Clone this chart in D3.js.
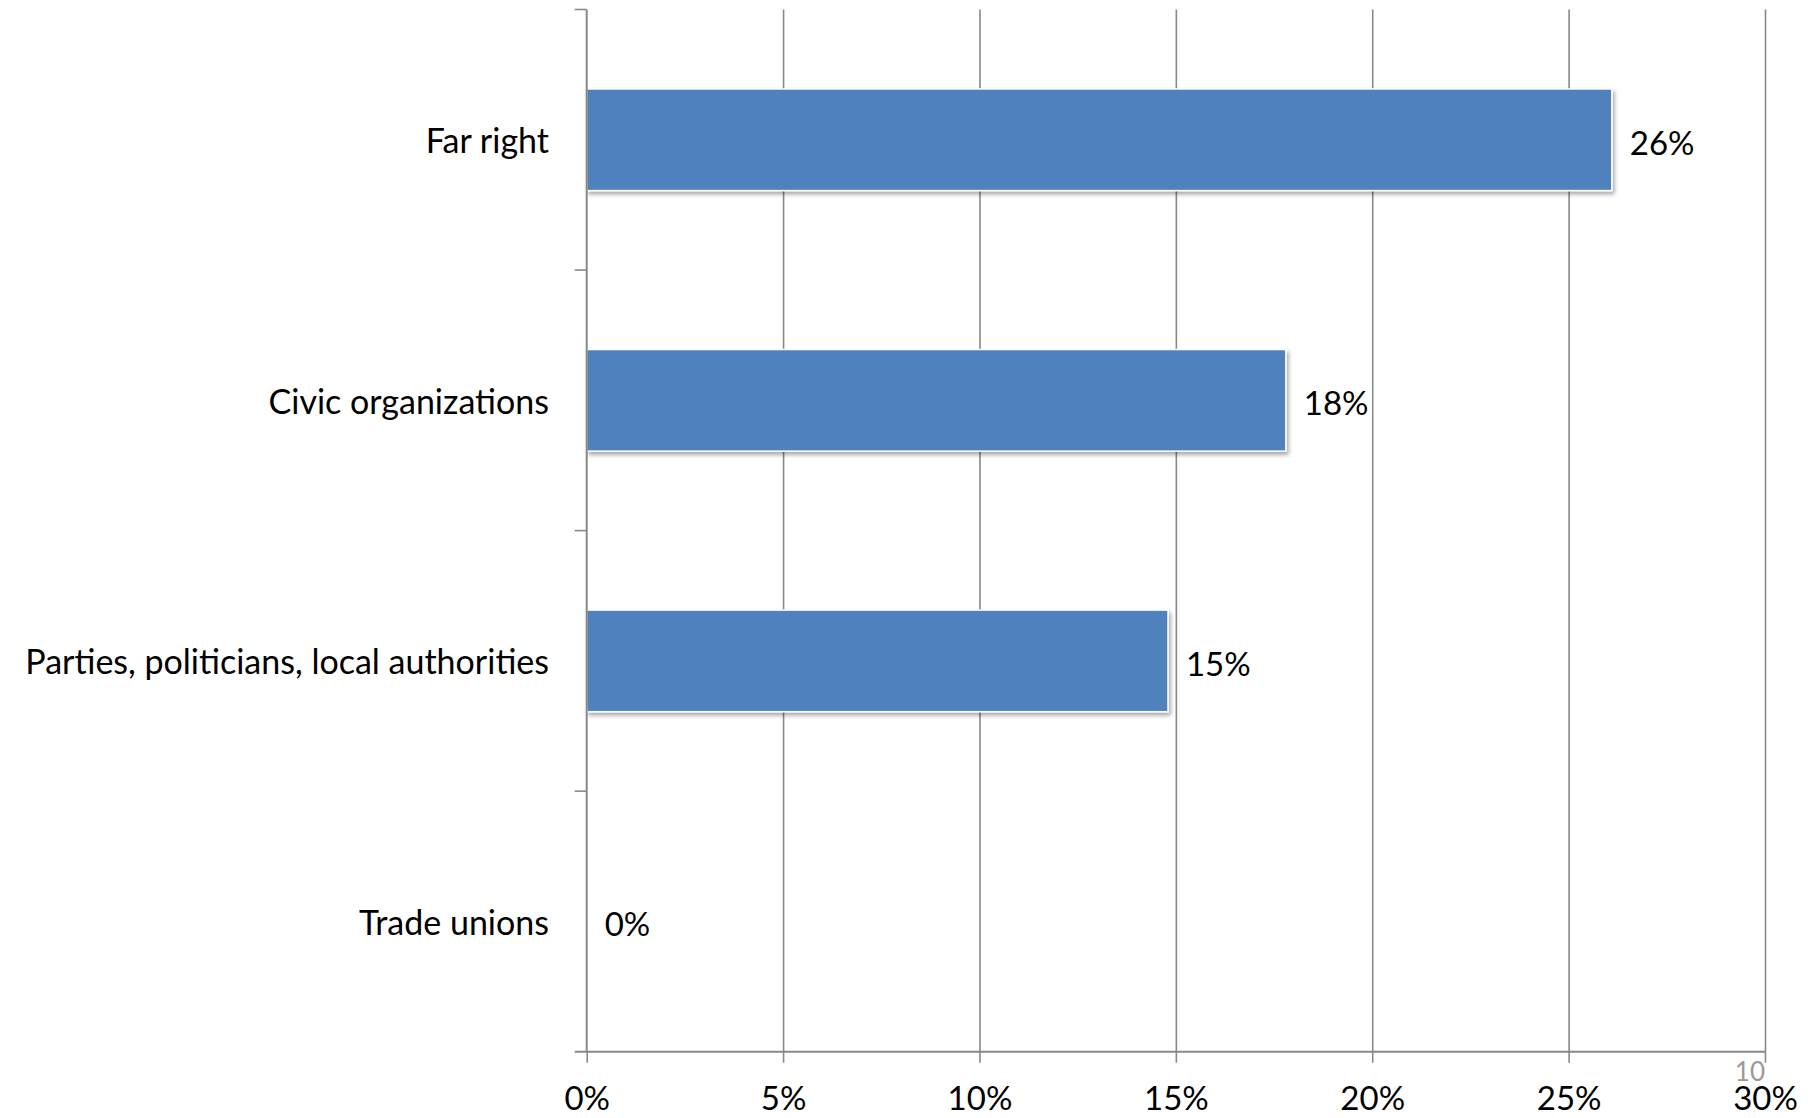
<!DOCTYPE html>
<html>
<head>
<meta charset="utf-8">
<script src="https://cdn.jsdelivr.net/npm/d3@7"></script>
<style>
  html, body { margin: 0; padding: 0; background: #ffffff; }
  svg { display: block; }
  text { font-family: Lato, "Open Sans", sans-serif; }
</style>
</head>
<body>
<svg id="chart" width="1818" height="1118"></svg>
<script>
const categories = ["Far right", "Civic organizations", "Parties, politicians, local authorities", "Trade unions"];
const values = [26.1, 17.8, 14.8, 0];
const xTicks = [0, 5, 10, 15, 20, 25, 30];
const pageNumber = "10";

const margin = { left: 586.7, right: 1765, top: 9.5, bottom: 1051.7 };
const catFont = 34;
const numFont = 33;

const svg = d3.select("#chart");

const x = d3.scaleLinear().domain([0, 30]).range([margin.left, margin.right]);
const y = d3.scaleBand().domain(categories).range([margin.top, margin.bottom])
  .paddingInner(0.61).paddingOuter(0.305);

const gridColor = "#888888";

// drop shadow filter
const defs = svg.append("defs");
const f = defs.append("filter").attr("id", "shadow")
  .attr("x", "-5%").attr("y", "-20%").attr("width", "115%").attr("height", "150%");
f.append("feDropShadow").attr("dx", 2).attr("dy", 3).attr("stdDeviation", 2)
  .attr("flood-color", "#000").attr("flood-opacity", 0.35);

// vertical gridlines
const grid = svg.append("g").attr("class", "grid")
  .attr("transform", `translate(0,${margin.top})`)
  .call(d3.axisBottom(x).tickValues(xTicks.slice(1)).tickSize(margin.bottom - margin.top).tickFormat(""));
grid.select(".domain").remove();
grid.selectAll("line").attr("stroke", gridColor).attr("stroke-width", 1.6);

// bars
svg.append("g").selectAll("rect")
  .data(categories.map((c, i) => ({ c, v: values[i] })).filter(d => d.v > 0))
  .join("rect")
  .attr("x", x(0))
  .attr("y", d => y(d.c))
  .attr("width", d => x(d.v) - x(0))
  .attr("height", y.bandwidth())
  .attr("fill", "#4F81BD")
  .attr("stroke", "#ffffff")
  .attr("stroke-width", 1.5)
  .attr("filter", "url(#shadow)");

// x axis
const xAxis = svg.append("g")
  .attr("transform", `translate(0,${margin.bottom})`)
  .call(d3.axisBottom(x).tickValues(xTicks).tickSize(11).tickFormat(d => d + "%"));
xAxis.select(".domain").attr("stroke", gridColor).attr("stroke-width", 2)
  .attr("d", `M${margin.left - 12},0H${margin.right}`);
xAxis.selectAll(".tick line").attr("stroke", gridColor).attr("stroke-width", 1.6);
xAxis.selectAll(".tick text")
  .attr("y", 1110 - margin.bottom).attr("dy", 0)
  .attr("fill", "#000").style("font-size", numFont + "px")
  .style("font-family", "Lato, 'Open Sans', sans-serif");

// y axis line and ticks at band boundaries
const yAxis = svg.append("g");
yAxis.append("line").attr("x1", margin.left).attr("x2", margin.left)
  .attr("y1", margin.top).attr("y2", margin.bottom)
  .attr("stroke", gridColor).attr("stroke-width", 2);
const boundaries = d3.range(categories.length).map(i => margin.top + i * y.step());
yAxis.selectAll("line.tick").data(boundaries).join("line").attr("class", "tick")
  .attr("x1", margin.left - 12).attr("x2", margin.left)
  .attr("y1", d => d).attr("y2", d => d)
  .attr("stroke", gridColor).attr("stroke-width", 1.6);

// category labels
svg.append("g").selectAll("text")
  .data(categories).join("text")
  .attr("x", 549)
  .attr("y", d => y(d) + y.bandwidth() / 2)
  .attr("text-anchor", "end")
  .attr("dominant-baseline", "central")
  .style("font-size", catFont + "px")
  .attr("fill", "#000")
  .text(d => d);

// data labels
svg.append("g").selectAll("text")
  .data(categories.map((c, i) => ({ c, v: values[i] })))
  .join("text")
  .attr("x", d => x(d.v) + 18)
  .attr("y", d => y(d.c) + y.bandwidth() / 2 + 2)
  .attr("dominant-baseline", "central")
  .style("font-size", numFont + "px")
  .attr("fill", "#000")
  .text(d => d3.format(".0f")(d.v) + "%");

// page number
svg.append("text")
  .attr("x", margin.right).attr("y", 1081)
  .attr("text-anchor", "end")
  .style("font-size", "26px")
  .attr("fill", "#999999")
  .text(pageNumber);
</script>
</body>
</html>
